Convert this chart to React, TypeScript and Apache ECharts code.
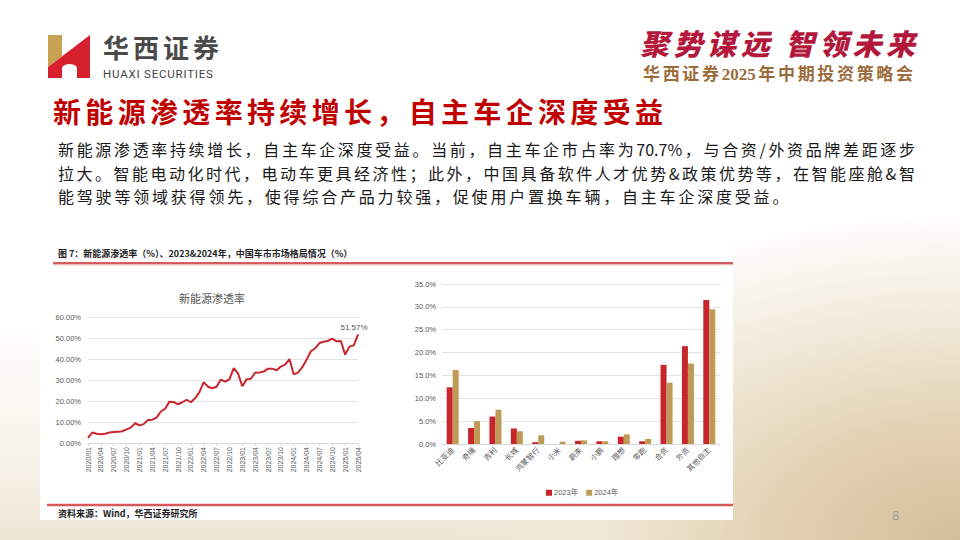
import React, { useEffect, useRef } from "react";
import * as echarts from "echarts";

const months: string[] = [
  "2020/01","2020/02","2020/03","2020/04","2020/05","2020/06","2020/07","2020/08","2020/09","2020/10","2020/11","2020/12",
  "2021/01","2021/02","2021/03","2021/04","2021/05","2021/06","2021/07","2021/08","2021/09","2021/10","2021/11","2021/12",
  "2022/01","2022/02","2022/03","2022/04","2022/05","2022/06","2022/07","2022/08","2022/09","2022/10","2022/11","2022/12",
  "2023/01","2023/02","2023/03","2023/04","2023/05","2023/06","2023/07","2023/08","2023/09","2023/10","2023/11","2023/12",
  "2024/01","2024/02","2024/03","2024/04","2024/05","2024/06","2024/07","2024/08","2024/09","2024/10","2024/11","2024/12",
  "2025/01","2025/02","2025/03","2025/04",
];

const penetration: number[] = [
  2.4, 5.0, 4.4, 4.2, 4.4, 5.0, 5.2, 5.3, 5.6, 6.5, 7.3, 9.4,
  8.4, 9.0, 11.0, 11.1, 12.1, 15.0, 16.3, 19.7, 19.5, 18.4, 19.4, 20.6,
  19.4, 21.3, 24.2, 29.0, 26.8, 26.1, 26.8, 30.2, 29.2, 30.3, 35.7, 33.2,
  27.0, 30.3, 30.6, 33.5, 33.6, 34.0, 35.4, 35.4, 34.6, 36.4, 37.3, 40.0,
  32.7, 33.5, 36.1, 39.6, 43.7, 45.1, 47.6, 48.2, 48.7, 49.7, 48.4, 48.6,
  42.1, 45.9, 46.5, 51.57,
];

const brands: string[] = ["比亚迪","奇瑞","吉利","长城","鸿蒙智行","小米","蔚来","小鹏","理想","零跑","合资","外资","其他自主"];
const share2023: number[] = [12.4, 3.5, 6.0, 3.4, 0.4, 0, 0.7, 0.6, 1.6, 0.6, 17.3, 21.4, 31.5];
const share2024: number[] = [16.2, 5.0, 7.5, 2.8, 1.9, 0.5, 0.8, 0.6, 2.1, 1.1, 13.4, 17.6, 29.5];

const lineTicks: number[] = [0, 10, 20, 30, 40, 50, 60];
const barTicks: number[] = [0, 5, 10, 15, 20, 25, 30, 35];

const CJK = '"Noto Sans CJK SC", sans-serif';
const CHARTFONT = '"Liberation Sans", "Noto Sans CJK SC", sans-serif';

const para1 = "新能源渗透率持续增长，自主车企深度受益。当前，自主车企市占率为70.7%，与合资/外资品牌差距逐步";
const para2 = "拉大。智能电动化时代，电动车更具经济性；此外，中国具备软件人才优势&政策优势等，在智能座舱&智";
const para3 = "能驾驶等领域获得领先，使得综合产品力较强，促使用户置换车辆，自主车企深度受益。";

export default function App() {
  const ref = useRef<HTMLDivElement>(null);

  useEffect(() => {
    document.body.style.margin = "0";
    const chart = echarts.init(ref.current!, null, { renderer: "svg" });
    const lastIdx = penetration.length - 1;
    const lineData = penetration.map((v, i) =>
      i === lastIdx
        ? {
            value: v,
            symbol: "circle",
            symbolSize: 1,
            label: {
              show: true,
              position: "top",
              distance: 3,
              offset: [-4, 0],
              formatter: v.toFixed(2) + "%",
              fontSize: 8,
              color: "#595959",
              fontFamily: CHARTFONT,
            },
          }
        : v
    );
    chart.setOption({
      animation: false,
      textStyle: { fontFamily: CHARTFONT },
      graphic: [
        {
          type: "text",
          x: 58,
          y: 253,
          style: {
            text: "图 7：新能源渗透率（%）、2023&2024年，中国车市市场格局情况（%）",
            fontSize: 9,
            fontWeight: "bold",
            fill: "#222",
            fontFamily: CJK,
            verticalAlign: "middle",
          },
        },
        { type: "line", shape: { x1: 53, y1: 264.5, x2: 733, y2: 264.5 }, style: { stroke: "#ecb8b8", lineWidth: 1.5 } },
        { type: "line", shape: { x1: 53, y1: 263, x2: 733, y2: 263 }, style: { stroke: "#c7282c", lineWidth: 1.6 } },
        { type: "line", shape: { x1: 47, y1: 505, x2: 733, y2: 505 }, style: { stroke: "#d35a58", lineWidth: 2.5 } },
        {
          type: "text",
          x: 58,
          y: 513,
          style: {
            text: "资料来源：Wind，华西证券研究所",
            fontSize: 9,
            fontWeight: "bold",
            fill: "#222",
            fontFamily: CJK,
            verticalAlign: "middle",
          },
        },
        {
          type: "text",
          x: 212,
          y: 298,
          style: {
            text: "新能源渗透率",
            fontSize: 11,
            fill: "#595959",
            fontFamily: CJK,
            align: "center",
            verticalAlign: "middle",
          },
        },
      ],
      grid: [
        { left: 88, top: 317, width: 270, height: 126 },
        { left: 442, top: 284, width: 278, height: 160 },
      ],
      legend: {
        data: ["2023年", "2024年"],
        top: 484,
        left: 541,
        icon: "rect",
        itemWidth: 6,
        itemHeight: 6,
        itemGap: 8,
        textStyle: { fontSize: 7.5, color: "#595959", padding: [0, 0, 0, -3] },
      },
      xAxis: [
        {
          gridIndex: 0,
          type: "category",
          data: months,
          boundaryGap: false,
          axisLine: { lineStyle: { color: "#d9d9d9" } },
          axisTick: { show: true, interval: 2, length: 3, lineStyle: { color: "#d9d9d9" } },
          axisLabel: { interval: 2, rotate: 90, fontSize: 7, color: "#595959", margin: 4 },
        },
        {
          gridIndex: 1,
          type: "category",
          data: brands,
          axisLine: { lineStyle: { color: "#d9d9d9" } },
          axisTick: { show: false },
          axisLabel: { interval: 0, rotate: 45, fontSize: 7.5, color: "#595959", margin: 5 },
        },
      ],
      yAxis: [
        {
          gridIndex: 0,
          type: "value",
          min: lineTicks[0],
          max: lineTicks[lineTicks.length - 1],
          interval: 10,
          axisLine: { show: false },
          axisTick: { show: false },
          splitLine: { lineStyle: { color: "#e3e3e3" } },
          axisLabel: { formatter: (v: number) => v.toFixed(2) + "%", fontSize: 7.5, color: "#595959", margin: 7 },
        },
        {
          gridIndex: 1,
          type: "value",
          min: barTicks[0],
          max: barTicks[barTicks.length - 1],
          interval: 5,
          axisLine: { show: false },
          axisTick: { show: false },
          splitLine: { lineStyle: { color: "#e3e3e3" } },
          axisLabel: { formatter: (v: number) => v.toFixed(1) + "%", fontSize: 7.5, color: "#595959", margin: 6 },
        },
      ],
      series: [
        {
          type: "line",
          name: "新能源渗透率",
          xAxisIndex: 0,
          yAxisIndex: 0,
          data: lineData,
          symbol: "none",
          lineStyle: { color: "#c8252c", width: 2 },
          itemStyle: { color: "#c8252c" },
        },
        {
          type: "bar",
          name: "2023年",
          xAxisIndex: 1,
          yAxisIndex: 1,
          data: share2023,
          barWidth: 6,
          barGap: "0%",
          itemStyle: { color: "#c8242b" },
        },
        {
          type: "bar",
          name: "2024年",
          xAxisIndex: 1,
          yAxisIndex: 1,
          data: share2024,
          barWidth: 6,
          barGap: "0%",
          itemStyle: { color: "#bf9a57" },
        },
      ],
    });
    return () => chart.dispose();
  }, []);

  const justify: React.CSSProperties = { textAlign: "justify", textAlignLast: "justify" as any, whiteSpace: "nowrap" };

  return (
    <div
      style={{
        position: "fixed",
        left: 0,
        top: 0,
        width: 960,
        height: 540,
        overflow: "hidden",
        fontFamily: CJK,
        background:
          "radial-gradient(ellipse 560px 330px at 100% 100%, #d5bf98 0%, #e3d2b4 35%, #f1e8d8 65%, rgba(255,255,255,0) 100%), linear-gradient(180deg, #ffffff 0%, #ffffff 58%, #f8f3ea 85%, #efe5d4 100%)",
      }}
    >
      <svg width={960} height={100} style={{ position: "absolute", left: 0, top: 0 }}>
        <polygon points="48,35 62,35 62,56 48,67" fill="#c9a153" />
        <polygon
          points="90,35 90,78 77,78 77,68 76,66 73,64.5 69.5,64 66,64.5 63,66 62,68 62,78 48,78 48,67"
          fill="#d6202e"
        />
      </svg>
      <div style={{ position: "absolute", left: 103, top: 34.4, fontSize: 26, fontWeight: 600, letterSpacing: 4, color: "#4a4a4a", lineHeight: "26px", whiteSpace: "nowrap" }}>
        华西证券
      </div>
      <div style={{ position: "absolute", left: 103, top: 66.6, fontSize: 11.5, letterSpacing: 0.8, color: "#444", fontFamily: 'Roboto, sans-serif', lineHeight: "14px", whiteSpace: "nowrap" }}>
        HUAXI SECURITIES
      </div>
      <div style={{ position: "absolute", left: 640, top: 24, width: 275, fontSize: 29, fontWeight: 900, fontStyle: "italic", color: "#b3183c", lineHeight: "36px", ...justify }}>
        聚势谋远 智领未来
      </div>
      <div style={{ position: "absolute", left: 643, top: 64, width: 270, fontSize: 17, fontWeight: 700, color: "#9c6b3c", lineHeight: "22px", fontFamily: '"Liberation Serif", "Noto Sans CJK SC", serif', ...justify }}>
        华西证券2025年中期投资策略会
      </div>
      <div style={{ position: "absolute", left: 53, top: 94, width: 610, fontSize: 28, fontWeight: 700, color: "#c00000", lineHeight: "34px", ...justify }}>
        新能源渗透率持续增长，自主车企深度受益
      </div>
      <div style={{ position: "absolute", left: 58, top: 138, width: 857, fontSize: 16, color: "#1a1a1a", lineHeight: "23.5px" }}>
        <div style={justify}>{para1}</div>
        <div style={justify}>{para2}</div>
        <div style={{ letterSpacing: 2.8, whiteSpace: "nowrap" }}>{para3}</div>
      </div>
      <div style={{ position: "absolute", left: 40, top: 233, width: 693, height: 287, background: "#ffffff" }} />
      <div style={{ position: "absolute", left: 892, top: 506, fontSize: 13, color: "#9a9a9a", fontFamily: '"Open Sans", sans-serif' }}>8</div>
      <div ref={ref} style={{ position: "absolute", left: 0, top: 0, width: 960, height: 540 }} />
    </div>
  );
}
